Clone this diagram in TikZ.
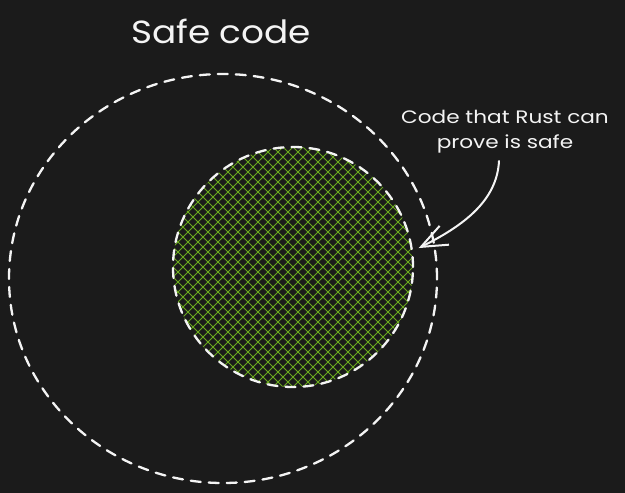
\documentclass[tikz,border=0pt]{standalone}
\usepackage{fontspec}
\setmainfont{Poppins}
\usetikzlibrary{arrows.meta,shapes.geometric,calc}
\definecolor{bg}{HTML}{1B1B1B}
\definecolor{hatch}{HTML}{6AAA1E}
\definecolor{ink}{HTML}{F4F4F4}
\tikzset{
  dashring/.style={draw=ink, line width=2.3pt, dash pattern=on 10pt off 8pt, line cap=round},
  hatchline/.style={draw=hatch, line width=1pt},
  label/.style={text=ink, align=center, inner sep=0pt},
}
\begin{document}
\begin{tikzpicture}[x=1pt,y=-1pt]
\fill[bg] (0,0) rectangle (625,493);
\useasboundingbox (0,0) rectangle (625,493);
% hatching of the inner disc
\begin{scope}
  \clip (293,267) circle[radius=120pt];
  \foreach \i in {-260,-250,...,260} {
    \draw[hatchline] (293+\i-140,267-140) -- (293+\i+140,267+140);
    \draw[hatchline] (293+\i-140,267+140) -- (293+\i+140,267-140);
  }
\end{scope}
\node[dashring, ellipse, minimum width=428pt, minimum height=409pt, inner sep=0pt] (outer) at (223,278.5) {};
\node[dashring, circle, minimum size=240pt, inner sep=0pt] (inner) at (293,267) {};
\node[label, font=\fontsize{32}{36}\selectfont] (title) at (221,31) {\scalebox{1.12}[1]{Safe code}};
\node[label, font=\fontsize{18}{25}\selectfont, anchor=north] (note) at (505,110) {\scalebox{1.2}[1]{Code that Rust can}\\\scalebox{1.2}[1]{prove is safe}};
\coordinate (tip) at ($(inner.9)+(6,0)$);
\coordinate (start) at (499,161);
\draw[draw=ink, line width=2pt, line cap=round, -{Straight Barb[length=26pt,width=21pt,line width=2pt]}]
  (start) .. controls (497,200) and (465,225) .. (tip);
\end{tikzpicture}
\end{document}
